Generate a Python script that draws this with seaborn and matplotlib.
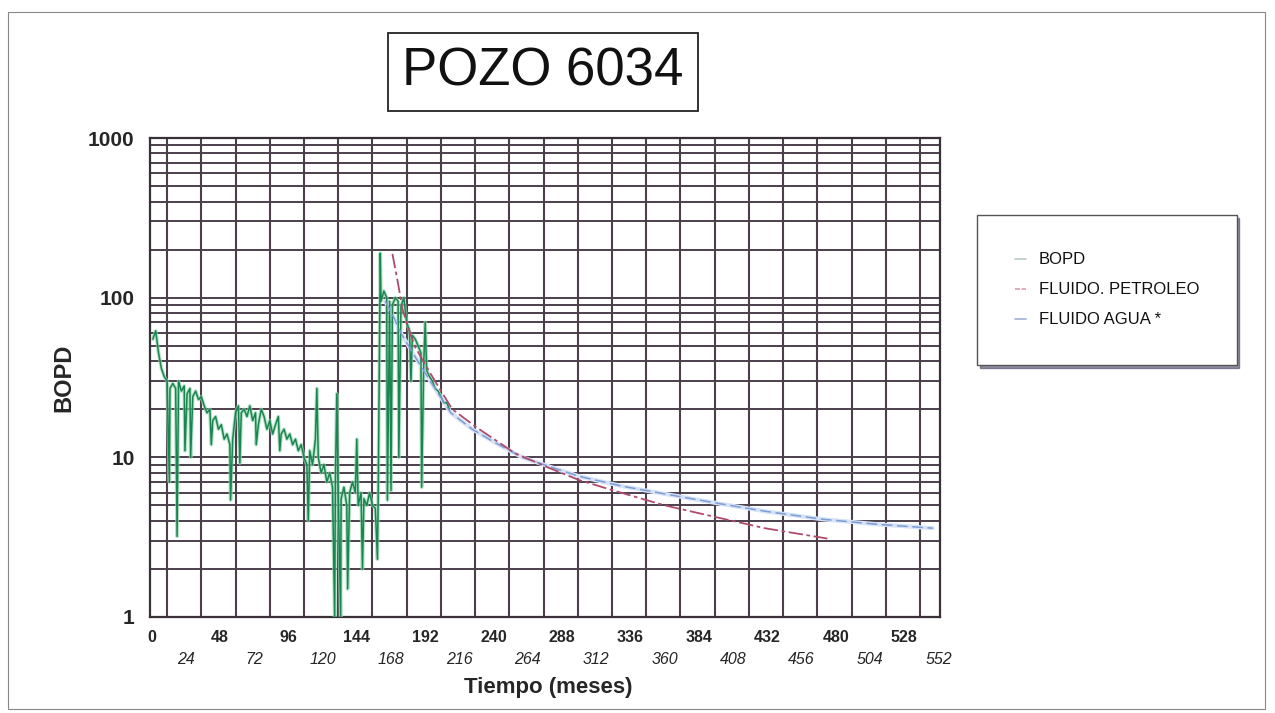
import numpy as np
import pandas as pd
import matplotlib
matplotlib.use("Agg")
import matplotlib.pyplot as plt
from matplotlib.lines import Line2D
from matplotlib.patches import Rectangle
from matplotlib.ticker import FixedLocator, NullFormatter
import seaborn as sns

# ---- Producción mensual del pozo (BOPD) ----
mes_bopd = [1, 3, 5, 7, 9, 11, 12.6, 13, 15, 17, 18, 19, 21, 23, 23.5, 25, 27, 27.5,
            29, 31, 33, 35, 37, 39, 41, 42, 43, 45, 47, 49, 51, 53, 55, 55.5, 57, 59,
            61, 62, 63, 65, 67, 69, 71, 73, 73.5, 75, 77, 79, 81, 83, 85, 87, 89, 90,
            91, 93, 95, 97, 99, 101, 103, 105, 107, 109, 110, 111, 113, 115, 116, 117,
            119, 121, 123, 125, 127, 128.5, 129, 130, 131, 132.7, 133, 135, 137, 137.6,
            139, 141, 143, 144, 145, 147, 148, 149, 151, 153, 155, 157, 158.5, 159,
            160.5, 161, 163, 165, 165.5, 167, 168, 169, 171, 173, 173.5, 175, 177, 179,
            181, 182, 183, 185, 187, 189, 189.5, 191, 192, 193, 195, 197, 199, 201, 203,
            205, 207, 209]
bopd = [55, 62, 45, 36, 32, 30, 7, 27, 29, 27, 3.2, 30, 26, 28, 11, 25, 27, 10,
        24, 26, 23, 24, 21, 19, 20, 12, 17, 18, 15, 16, 13, 14, 12, 5.4, 13, 19,
        21, 9.2, 19, 20, 18, 21, 17, 19, 12, 16, 20, 18, 15, 17, 14, 16, 18, 11,
        14, 15, 13, 14, 12, 13, 11, 12, 10, 9, 4, 11, 9, 13, 27, 10,
        8, 9, 7, 8, 6.5, 1, 7, 25, 6, 1, 5.5, 6.5, 5, 1.5,
        6, 7, 6, 13, 5, 6, 2, 5.5, 5, 6, 5, 4.8, 2.3, 5.5,
        190, 95, 110, 100, 5.4, 95, 6.2, 90, 100, 95, 10, 88, 100, 70,
        62, 30, 58, 55, 50, 45, 6.5, 40, 70, 35, 32, 30, 27, 26, 24,
        22, 22, 20]

# ---- Curvas ajustadas ----
mes_petroleo = [169, 173, 176, 180, 185, 192, 202, 211, 228, 255, 280, 300, 324,
                360, 397, 430, 474]
fluido_petroleo = [188, 122, 85, 65, 49, 38, 27, 20, 15.4, 10.6, 8.5, 7.2, 6.2,
                   5.0, 4.2, 3.6, 3.1]

mes_agua = [164, 170, 175, 182, 190, 200, 210, 225, 240, 260, 280, 300, 330,
            360, 400, 430, 470, 510, 548]
fluido_agua = [95, 75, 60, 47, 36, 26, 19, 15, 12.5, 10, 8.7, 7.6, 6.6,
               5.9, 5.1, 4.6, 4.1, 3.8, 3.6]

x_ticks = list(range(0, 553, 24))
y_ticks = [1, 10, 100, 1000]
y_tick_labels = ["1", "10", "100", "1000"]

titulo = "POZO 6034"
etiquetas = ["BOPD", "FLUIDO. PETROLEO", "FLUIDO AGUA *"]

df_bopd = pd.DataFrame({"mes": mes_bopd, "valor": bopd})
df_pet = pd.DataFrame({"mes": mes_petroleo, "valor": fluido_petroleo})
df_agua = pd.DataFrame({"mes": mes_agua, "valor": fluido_agua})

sns.set_theme(style="white")
plt.rcParams["font.family"] = ["Liberation Sans", "DejaVu Sans"]

fig = plt.figure(figsize=(12.75, 7.13), dpi=100)
ax = fig.add_axes([150 / 1275, 1 - 617 / 713, 790 / 1275, 479 / 713])

grid_c = "#4b3f4b"

# production history: light halo under a darker trace
sns.lineplot(data=df_bopd, x="mes", y="valor", ax=ax, color="#94d6ae",
             lw=2.6, alpha=0.7, estimator=None, sort=False, zorder=3)
sns.lineplot(data=df_bopd, x="mes", y="valor", ax=ax, color="#1a8550",
             lw=1.1, estimator=None, sort=False, zorder=4)

# fitted declines
sns.lineplot(data=df_agua, x="mes", y="valor", ax=ax, color="#d6e2f5",
             lw=3.0, estimator=None, sort=False, zorder=3)
sns.lineplot(data=df_agua, x="mes", y="valor", ax=ax, color="#7f9cd6",
             lw=1.1, estimator=None, sort=False, zorder=5,
             linestyle=(0, (7, 3)))
sns.lineplot(data=df_pet, x="mes", y="valor", ax=ax, color="#b04a6c",
             lw=1.3, estimator=None, sort=False, zorder=5,
             linestyle=(0, (8, 2, 2, 2)))

ax.set_yscale("log")
ax.set_ylim(1, 1000)
ax.set_xlim(-1, 553)

# log paper grid
ax.set_axisbelow(True)
ax.yaxis.set_major_locator(FixedLocator(y_ticks))
ax.yaxis.set_minor_locator(FixedLocator(
    [m * 10 ** d for d in range(0, 3) for m in range(2, 10)]))
ax.yaxis.set_minor_formatter(NullFormatter())
ax.set_yticklabels(y_tick_labels)
ax.grid(True, which="both", axis="y", color=grid_c, lw=1.4)

ax.set_xticks(x_ticks)
ax.set_xticklabels([str(v) for v in x_ticks])
ax.xaxis.set_minor_locator(FixedLocator(np.arange(11, 553, 24)))
ax.grid(False, which="major", axis="x")
ax.grid(True, which="minor", axis="x", color=grid_c, lw=1.5)

for s in ax.spines.values():
    s.set_color("#3a3038")
    s.set_linewidth(1.6)

ax.tick_params(axis="y", which="both", length=0, pad=11, labelsize=15)
ax.tick_params(axis="x", which="minor", length=0)
ax.tick_params(axis="x", which="major", direction="in", length=5, width=1.2,
               color="#3a3038", labelsize=11.5, pad=9)
for lab in ax.get_yticklabels():
    lab.set_fontweight("bold")
for i, t in enumerate(ax.xaxis.get_major_ticks()):
    t.label1.set_fontweight("bold")
    if i % 2 == 1:
        t.set_pad(25)
        t.label1.set_fontstyle("italic")
        t.label1.set_fontweight("normal")

ax.set_xlabel("Tiempo (meses)", fontsize=16, fontweight="bold")
ax.xaxis.set_label_coords(0.504, -0.125)
ax.set_ylabel("BOPD", fontsize=17, fontweight="bold")
ax.yaxis.set_label_coords(-0.095, 0.5)

# title box
fig.text(543 / 1275, 1 - 72 / 713, titulo, ha="center", va="center",
         fontsize=38, color="#111111",
         bbox=dict(boxstyle="square,pad=0.27", fc="white", ec="#222222", lw=1.3))

# legend
handles = [Line2D([], [], color="#b9cdbf", lw=1.2),
           Line2D([], [], color="#e09ab0", lw=1.2, linestyle=(0, (3, 1))),
           Line2D([], [], color="#9fb0dc", lw=1.2)]
leg = fig.legend(handles, etiquetas, loc="upper left",
                 bbox_to_anchor=(977 / 1275, 1 - 215 / 713),
                 fontsize=12, frameon=True, fancybox=False,
                 borderpad=2.25, labelspacing=0.9, handlelength=0.7,
                 handletextpad=0.75, borderaxespad=0,
                 shadow={"color": "#444466", "alpha": 0.6})
leg.get_frame().set_edgecolor("#555555")
leg.get_frame().set_linewidth(1.0)
for txt in leg.get_texts():
    txt.set_color("#111111")

# page border
fig.patches.append(Rectangle((8 / 1275, 4 / 713), 1257 / 1275, 697 / 713,
                             transform=fig.transFigure, fill=False,
                             ec="#888888", lw=0.8))

fig.savefig("out.png", dpi=100, facecolor="white")
